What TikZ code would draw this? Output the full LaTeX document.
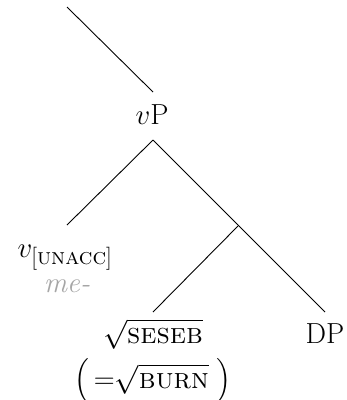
\documentclass[tikz,border=0pt]{standalone}
\usepackage{fix-cm}
\usepackage{amsmath}
\begin{document}
\begin{tikzpicture}[x=1pt,y=-1pt,
  lbl/.style={inner sep=0pt,anchor=base,font=\fontsize{29}{33}\selectfont},
  branch/.style={draw=black,line width=0.9pt}]
\useasboundingbox (0,0) rectangle (347,400);
% tree junctions
\coordinate (top) at (67,7);
\coordinate (vPup) at (153,92);
\coordinate (vPdown) at (153,140);
\coordinate (vleaf) at (67,225);
\coordinate (mid) at (238,226);
\coordinate (rootleaf) at (153,312);
\coordinate (dpleaf) at (325,312);
% labels
\node[lbl] (vP) at (152,124) {$v$P};
\node[lbl] (vhead) at (65,257)
  {$v_{\text{\fontsize{23}{26}\selectfont[\textsc{unacc}]}}$};
\node[lbl,text=black!35] (me) at (67,292) {\textit{me-}};
\node[lbl] (root) at (153,343) {$\sqrt{\textsc{seseb}}$};
\node[lbl] (DP) at (325,343) {DP};
\node[lbl] (gloss) at (153,388)
  {$\left(\,{=}\sqrt{\textsc{burn}}\;\right)$};
% branches
\draw[branch] (top) -- (vPup);
\draw[branch] (vPdown) -- (vleaf);
\draw[branch] (vPdown) -- (dpleaf);
\draw[branch] (mid) -- (rootleaf);
\end{tikzpicture}
\end{document}
